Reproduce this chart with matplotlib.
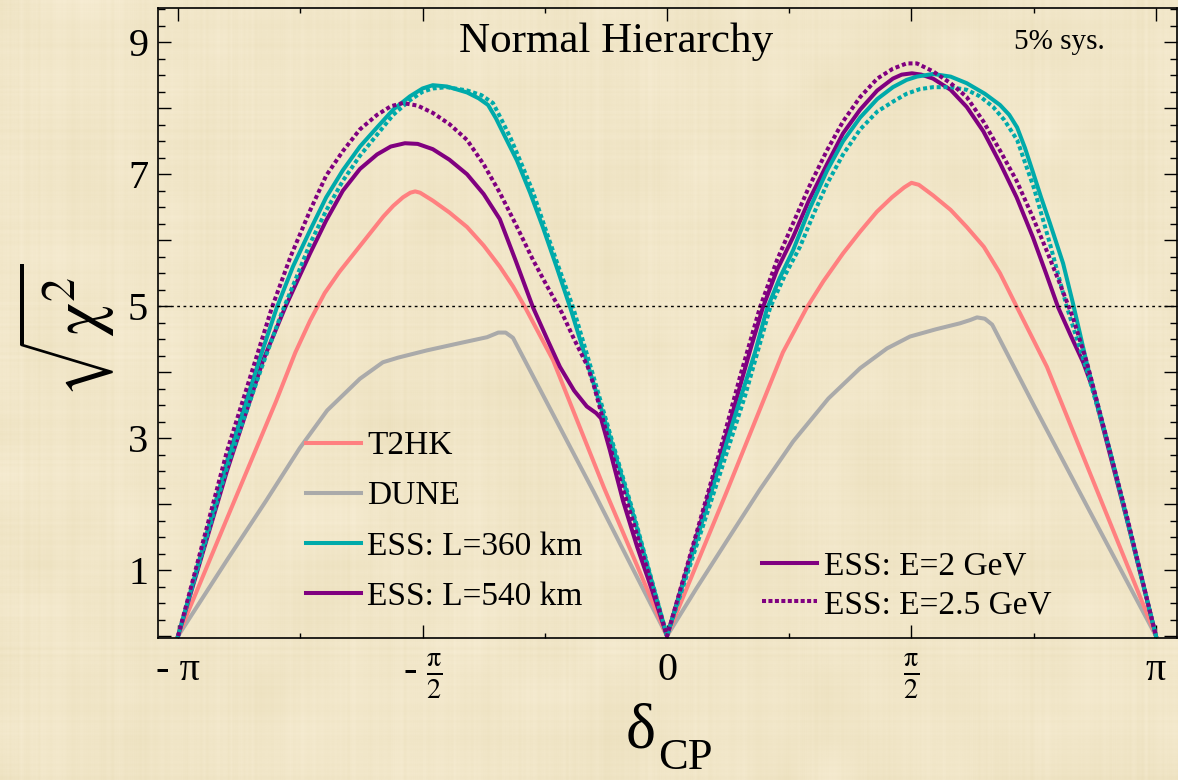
import numpy as np
import matplotlib
matplotlib.use("Agg")
import matplotlib.pyplot as plt
from matplotlib.lines import Line2D

plt.rcParams['font.family'] = ['Liberation Serif', 'DejaVu Serif']
plt.rcParams['mathtext.fontset'] = 'stix'

# delta_CP in units of pi, sqrt(chi^2) values read per curve
t2hk_x = [-1, -0.9, -0.8, -0.76, -0.73, -0.70, -0.67, -0.64, -0.61, -0.58, -0.56,
          -0.54, -0.525, -0.515, -0.505, -0.479, -0.445, -0.409, -0.375, -0.342,
          -0.315, -0.290, -0.233, -0.129, 0,
          0.12, 0.2, 0.237, 0.286, 0.32, 0.360, 0.395, 0.429, 0.46, 0.485,
          0.50, 0.515, 0.544, 0.58, 0.613, 0.648, 0.681, 0.718, 0.777, 0.9, 1]
t2hk_y = [0, 1.78, 3.55, 4.3, 4.78, 5.2, 5.52, 5.8, 6.08, 6.36, 6.52,
          6.65, 6.72, 6.74, 6.72, 6.6, 6.42, 6.2, 5.92, 5.6,
          5.3, 4.98, 4.18, 2.25, 0,
          2.15, 3.62, 4.3, 4.98, 5.38, 5.8, 6.13, 6.43, 6.65, 6.8,
          6.87, 6.84, 6.68, 6.46, 6.2, 5.9, 5.5, 4.95, 4.08, 1.83, 0]

dune_x = [-1, -0.9, -0.82, -0.751, -0.695, -0.628, -0.581, -0.55, -0.491, -0.43,
          -0.368, -0.345, -0.33, -0.315, -0.151, 0,
          0.06, 0.123, 0.19, 0.258, 0.33, 0.395, 0.45, 0.497, 0.55, 0.599, 0.62,
          0.634, 0.65, 0.665, 0.75, 0.871, 1]
dune_y = [0, 1.15, 2.05, 2.85, 3.42, 3.9, 4.15, 4.22, 4.33, 4.43,
          4.53, 4.6, 4.6, 4.52, 2.2, 0,
          0.72, 1.45, 2.22, 2.95, 3.6, 4.06, 4.36, 4.54, 4.65, 4.74, 4.79,
          4.83, 4.81, 4.72, 3.5, 1.8, 0]

# ESS, L=360 km, E=2 GeV
ess360_x = [-1, -0.9, -0.834, -0.798, -0.765, -0.730, -0.697, -0.663, -0.628, -0.593,
            -0.56, -0.526, -0.5, -0.479, -0.45, -0.409, -0.385, -0.366, -0.35, -0.33,
            -0.307, -0.28, -0.254, -0.226, -0.198, -0.151, -0.11, -0.070, 0,
            0.108, 0.15, 0.180, 0.204, 0.23, 0.258, 0.29, 0.327, 0.36, 0.395,
            0.43, 0.462, 0.49, 0.511, 0.544, 0.58, 0.613, 0.65, 0.681, 0.70,
            0.716, 0.732, 0.748, 0.765, 0.783, 0.810, 0.830, 0.859, 0.906, 0.953, 1]
ess360_y = [0, 2.65, 4.18, 4.98, 5.6, 6.15, 6.65, 7.06, 7.42, 7.71,
            7.98, 8.18, 8.3, 8.35, 8.33, 8.24, 8.15, 8.05, 7.85, 7.55,
            7.21, 6.72, 6.2, 5.6, 4.98, 3.85, 2.85, 1.86, 0,
            2.6, 3.6, 4.3, 4.95, 5.42, 5.85, 6.45, 7.05, 7.5, 7.86,
            8.14, 8.32, 8.43, 8.48, 8.52, 8.48, 8.38, 8.22, 8.05, 7.9,
            7.71, 7.4, 7.04, 6.65, 6.26, 5.65, 5.05, 4.12, 2.8, 1.42, 0]

# ESS, L=360 km, E=2.5 GeV
ess360_hi_x = [-1, -0.9, -0.83, -0.788, -0.76, -0.730, -0.697, -0.663, -0.628, -0.593,
               -0.56, -0.526, -0.5, -0.479, -0.45, -0.409, -0.38, -0.356, -0.34, -0.32,
               -0.30, -0.275, -0.25, -0.222, -0.192, -0.151, -0.11, -0.070, 0,
               0.108, 0.16, 0.211, 0.24, 0.272, 0.30, 0.327, 0.36, 0.395, 0.43,
               0.462, 0.49, 0.517, 0.544, 0.58, 0.613, 0.64, 0.667, 0.69, 0.716,
               0.75, 0.783, 0.818, 0.859, 0.906, 0.953, 1]
ess360_hi_y = [0, 2.55, 4.05, 4.9, 5.4, 5.95, 6.45, 6.9, 7.28, 7.6,
               7.9, 8.12, 8.25, 8.3, 8.32, 8.27, 8.2, 8.08, 7.85, 7.55,
               7.2, 6.75, 6.2, 5.6, 4.98, 3.95, 2.9, 1.9, 0,
               2.45, 3.65, 4.98, 5.45, 5.9, 6.4, 6.85, 7.3, 7.68, 7.95,
               8.1, 8.22, 8.29, 8.32, 8.32, 8.28, 8.18, 8.02, 7.82, 7.52,
               6.8, 5.95, 4.98, 4.02, 2.8, 1.4, 0]

# ESS, L=540 km, E=2 GeV
ess540_x = [-1, -0.9, -0.826, -0.781, -0.755, -0.730, -0.697, -0.663, -0.628, -0.593,
            -0.565, -0.536, -0.51, -0.479, -0.445, -0.409, -0.375, -0.342, -0.31, -0.274,
            -0.245, -0.219, -0.19, -0.164, -0.145, -0.135, -0.117, -0.09, -0.061, -0.03, 0,
            0.108, 0.170, 0.196, 0.225, 0.258, 0.29, 0.327, 0.36, 0.395, 0.43,
            0.462, 0.48, 0.501, 0.52, 0.544, 0.58, 0.613, 0.647, 0.681, 0.715,
            0.748, 0.775, 0.800, 0.826, 0.851, 0.871, 0.941, 1]
ess540_y = [0, 2.5, 4.18, 4.98, 5.4, 5.8, 6.3, 6.75, 7.08, 7.3,
            7.42, 7.47, 7.46, 7.38, 7.22, 7.0, 6.7, 6.32, 5.7, 4.98,
            4.5, 4.08, 3.72, 3.48, 3.38, 3.3, 2.82, 2.05, 1.35, 0.68, 0,
            2.7, 4.33, 4.98, 5.55, 6.05, 6.6, 7.15, 7.62, 7.98, 8.27,
            8.45, 8.51, 8.53, 8.51, 8.45, 8.28, 8.02, 7.65, 7.17, 6.65,
            6.05, 5.5, 4.98, 4.55, 4.15, 3.75, 1.75, 0]

# ESS, L=540 km, E=2.5 GeV
ess540_hi_x = [-1, -0.9, -0.808, -0.77, -0.730, -0.697, -0.663, -0.628, -0.593, -0.565,
               -0.540, -0.51, -0.479, -0.445, -0.409, -0.375, -0.342, -0.31, -0.274, -0.245,
               -0.215, -0.19, -0.162, -0.149, -0.11, -0.070, 0,
               0.108, 0.150, 0.190, 0.225, 0.258, 0.29, 0.327, 0.36, 0.395, 0.43,
               0.462, 0.49, 0.511, 0.544, 0.58, 0.613, 0.647, 0.681, 0.715, 0.748,
               0.776, 0.803, 0.830, 0.859, 0.941, 1]
ess540_hi_y = [0, 2.8, 4.98, 5.75, 6.45, 6.98, 7.35, 7.68, 7.9, 8.03,
               8.08, 8.04, 7.93, 7.76, 7.52, 7.15, 6.72, 6.25, 5.7, 5.3,
               4.9, 4.5, 4.08, 3.78, 2.7, 1.75, 0,
               2.8, 3.95, 4.98, 5.7, 6.26, 6.8, 7.36, 7.8, 8.17, 8.45,
               8.6, 8.68, 8.68, 8.56, 8.38, 8.17, 7.8, 7.36, 6.9, 6.35,
               5.85, 5.35, 4.83, 4.14, 1.8, 0]

tick_pos = [-1, -0.5, 0, 0.5, 1]
tick_lab = [u'- π', r'- $\frac{\mathrm{\pi}}{2}$', '0', r'$\frac{\mathrm{\pi}}{2}$', u'π']

salmon = '#ff8080'
grey = '#aaaaaa'
teal = '#00aaaa'
purple = '#800080'

fig = plt.figure(figsize=(11.78, 7.80), dpi=100)

# parchment backdrop: faint woven streaks plus soft mottling
H, W = 780, 1178
rng = np.random.default_rng(11)
def smooth(a, k):
    return np.convolve(a, np.ones(k) / k, mode='same')
rows = smooth(rng.normal(size=H), 3)
cols = smooth(rng.normal(size=W), 3)
coarse = rng.normal(size=(H // 45 + 2, W // 45 + 2))
yy = np.linspace(0, coarse.shape[0] - 1, H)
xx = np.linspace(0, coarse.shape[1] - 1, W)
tmp = np.array([np.interp(xx, np.arange(coarse.shape[1]), r) for r in coarse])
blot = np.array([np.interp(yy, np.arange(coarse.shape[0]), c) for c in tmp.T]).T
lum = 0.5 * rows[:, None] + 0.5 * cols[None, :] + 0.6 * blot
lum = lum / np.abs(lum).max()
base = np.array([241, 230, 200]) / 255.0
tint = np.array([7, 8, 14]) / 255.0
tex = np.clip(base[None, None, :] + lum[..., None] * tint[None, None, :], 0, 1)
bg = fig.add_axes([0, 0, 1, 1], zorder=-5)
bg.imshow(tex, aspect='auto', interpolation='bilinear')
bg.axis('off')

ax = fig.add_axes([158 / 1178, 142 / 780, 1019 / 1178, 630 / 780])
ax.set_facecolor('none')

lw = 2.9
dots = (0, (1.0, 0.7))
kw = dict(lw=lw, solid_joinstyle='round', dash_joinstyle='round')
ax.plot(dune_x, dune_y, color=grey, **kw)
ax.plot(t2hk_x, t2hk_y, color=salmon, **kw)
ax.plot(ess540_x, ess540_y, color=purple, **kw)
ax.plot(ess360_x, ess360_y, color=teal, **kw)
ax.plot(ess360_hi_x, ess360_hi_y, color=teal, ls=dots, **kw)
ax.plot(ess540_hi_x, ess540_hi_y, color=purple, ls=dots, **kw)

ax.axhline(5, color='black', lw=1.0, ls=(0, (2, 2.5)))

ax.set_xlim(-1.041, 1.043)
ax.set_ylim(-0.03, 9.52)

ax.set_xticks(tick_pos)
ax.set_xticklabels(tick_lab)
ax.set_xticks([-0.75, -0.25, 0.25, 0.75], minor=True)
ax.set_yticks(range(0, 10))
ax.set_yticklabels(['' if v % 2 == 0 else str(v) for v in range(0, 10)])
ax.set_yticks(np.arange(0, 9.6, 0.25), minor=True)
ax.tick_params(which='both', direction='in', top=True, right=True,
               width=1.0, colors='black', labelsize=29)
ax.tick_params(axis='x', which='major', length=9.5, pad=10)
ax.tick_params(axis='x', which='minor', length=3.6)
ax.tick_params(axis='y', which='major', length=9.5, pad=7)
ax.tick_params(axis='y', which='minor', length=5)
for s in ax.spines.values():
    s.set_linewidth(1.2)

ax.text(0.45, 0.947, 'Normal Hierarchy', transform=ax.transAxes,
        ha='center', va='center', fontsize=31)
ax.text(0.885, 0.946, '5% sys.', transform=ax.transAxes,
        ha='center', va='center', fontsize=21)

fig.text(66 / 1178, 1 - 330 / 780, r'$\sqrt{\mathrm{\chi}^{2}}$', rotation=90,
         ha='center', va='center', fontsize=49)
fig.text(641 / 1178, 1 - 733 / 780, u'δ', ha='center', va='center', fontsize=46)
fig.text(685 / 1178, 1 - 758 / 780, 'CP', ha='center', va='center', fontsize=32)

h1 = [Line2D([], [], color=salmon, lw=lw), Line2D([], [], color=grey, lw=lw),
      Line2D([], [], color=teal, lw=lw), Line2D([], [], color=purple, lw=lw)]
leg1 = ax.legend(h1, ['T2HK', 'DUNE', 'ESS: L=360 km', 'ESS: L=540 km'],
                 loc='upper left', bbox_to_anchor=(0.145, 0.329), frameon=False,
                 fontsize=24, handlelength=1.65, handletextpad=0.2,
                 labelspacing=0.59, borderpad=0, borderaxespad=0)
ax.add_artist(leg1)
h2 = [Line2D([], [], color=purple, lw=lw),
      Line2D([], [], color=purple, lw=lw, ls=(0, (1.0, 0.6)))]
ax.legend(h2, ['ESS: E=2 GeV', 'ESS: E=2.5 GeV'],
          loc='upper left', bbox_to_anchor=(0.593, 0.1375), frameon=False,
          fontsize=24, handlelength=1.65, handletextpad=0.2,
          labelspacing=0.23, borderpad=0, borderaxespad=0)

fig.savefig('out.png', dpi=100)
